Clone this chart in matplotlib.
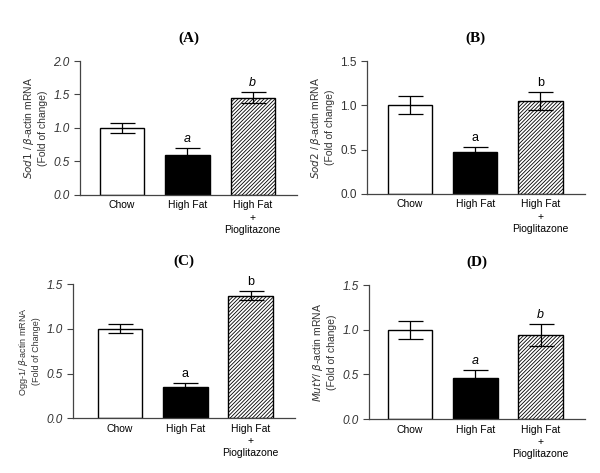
import matplotlib.pyplot as plt

groups = ['Chow', 'High Fat', 'High Fat\n+\nPioglitazone']

sod1 = [1.00, 0.59, 1.45]
sod1_err = [0.08, 0.11, 0.08]
sod2 = [1.00, 0.47, 1.05]
sod2_err = [0.10, 0.06, 0.10]
ogg1 = [1.00, 0.35, 1.37]
ogg1_err = [0.05, 0.04, 0.05]
muty = [1.00, 0.46, 0.94]
muty_err = [0.10, 0.09, 0.12]

sig_letters = ['', 'a', 'b']

plt.rcParams['hatch.linewidth'] = 0.6
plt.rcParams['hatch.color'] = '#333333'

fig = plt.figure(figsize=(6, 4.73), dpi=100)

panels = [
    # title, values, errors, ylabel, ymax, rect, xleft, italic ticks, letter style, label size
    ('(A)', sod1, sod1_err, r'$\it{Sod1}$ / $\beta$-actin mRNA' + '\n(Fold of change)',
     2.0, [0.1333, 0.588, 0.362, 0.283], -0.646, True, 'italic', 7.5),
    ('(B)', sod2, sod2_err, r'$\it{Sod2}$ / $\beta$-actin mRNA' + '\n(Fold of change)',
     1.5, [0.6117, 0.590, 0.363, 0.281], -0.656, False, 'normal', 7.5),
    ('(C)', ogg1, ogg1_err, r'Ogg-1/ $\beta$-actin mRNA' + '\n(Fold of Change)',
     1.5, [0.1217, 0.116, 0.370, 0.283], -0.72, True, 'normal', 6.5),
    ('(D)', muty, muty_err, r'$\it{MutY}$/ $\beta$-actin mRNA' + '\n(Fold of change)',
     1.5, [0.615, 0.114, 0.360, 0.283], -0.63, True, 'italic', 7.5),
]

for title, vals, errs, ylab, ymax, rect, xleft, ital, lstyle, lsize in panels:
    ax = fig.add_axes(rect)
    x = [0, 1, 2]
    colors = ['white', 'black', 'white']
    hatches = ['', '', '/////////']
    for i in x:
        ax.bar(i, vals[i], width=0.68, color=colors[i], edgecolor='black',
               linewidth=1.0, hatch=hatches[i], zorder=2)
        ax.errorbar(i, vals[i], yerr=errs[i], color='black', capsize=9,
                    elinewidth=0.9, capthick=0.9, zorder=3)
        if sig_letters[i]:
            ax.text(i, vals[i] + errs[i] + ymax * 0.025, sig_letters[i],
                    ha='center', va='bottom', fontsize=9, style=lstyle,
                    family='Liberation Sans')
    ax.set_xlim(xleft, 2.68)
    ax.set_ylim(0, ymax)
    n = int(round(ymax / 0.5)) + 1
    ax.set_yticks([t * 0.5 for t in range(n)])
    ax.set_yticklabels(['%.1f' % (t * 0.5) for t in range(n)],
                       fontsize=8.5, style='italic' if ital else 'normal',
                       family='Liberation Sans')
    ax.set_xticks(x)
    ax.set_xticklabels(groups, fontsize=7.5, family='Liberation Sans',
                       linespacing=1.3)
    ax.tick_params(axis='x', length=0, pad=4)
    ax.tick_params(axis='y', length=4, width=0.8, colors='#444444',
                   labelcolor='#333333')
    ax.spines['top'].set_visible(False)
    ax.spines['right'].set_visible(False)
    for s in ['left', 'bottom']:
        ax.spines[s].set_color('#444444')
        ax.spines[s].set_linewidth(0.9)
    ax.set_ylabel(ylab, fontsize=lsize, family='Liberation Sans',
                  color='#333333', linespacing=1.2)
    ax.set_title(title, fontsize=11, fontweight='bold', family='Liberation Serif',
                 pad=14)

fig.savefig('out.png', dpi=100)
